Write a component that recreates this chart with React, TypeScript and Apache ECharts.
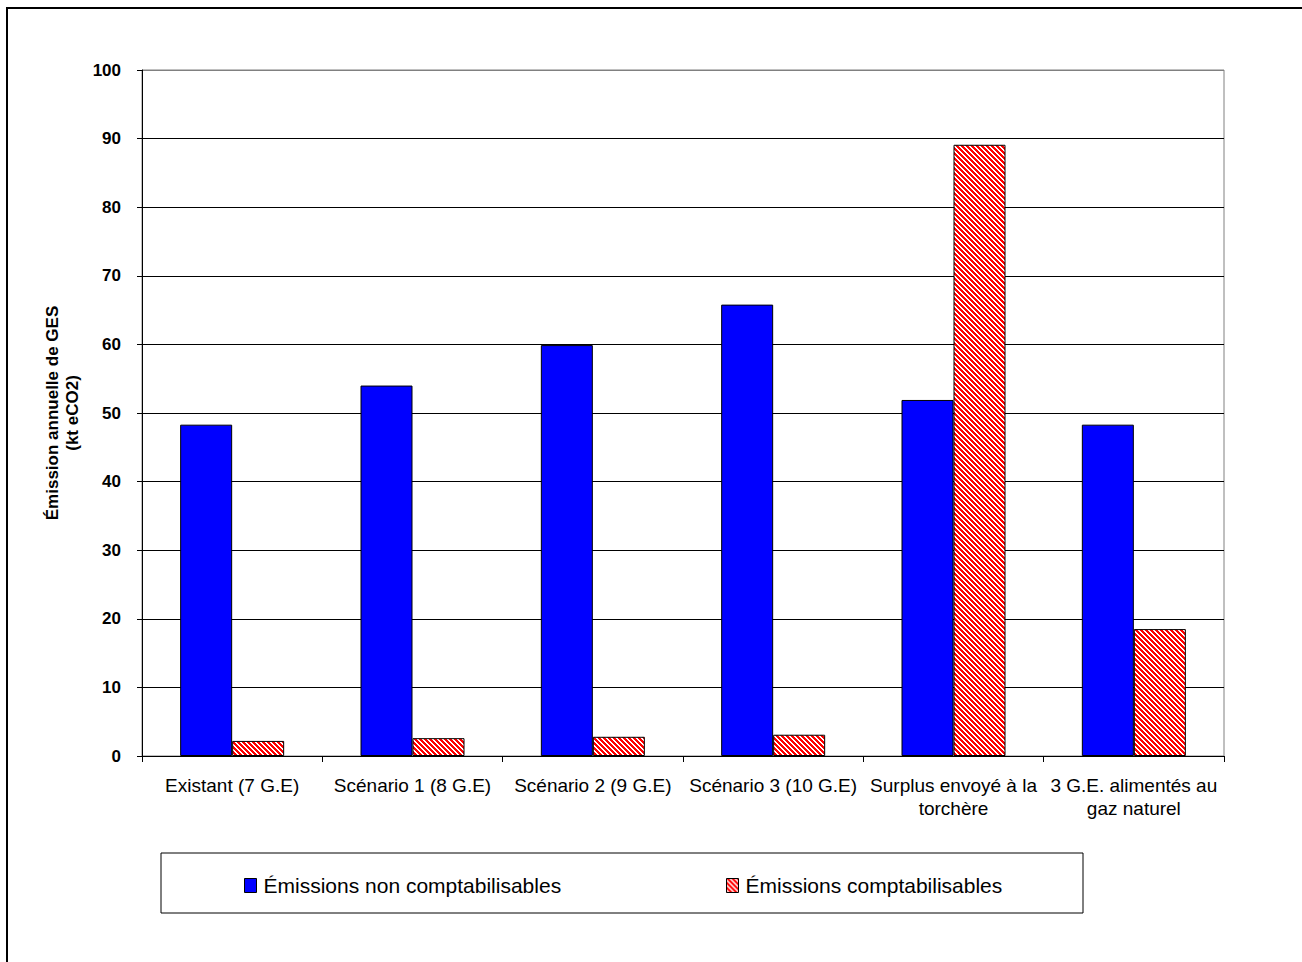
import React, { useEffect, useRef } from "react";
import * as echarts from "echarts";

// Scenarios compared
const categories = [
  "Existant (7 G.E)",
  "Scénario 1 (8 G.E)",
  "Scénario 2 (9 G.E)",
  "Scénario 3 (10 G.E)",
  "Surplus envoyé à la\ntorchère",
  "3 G.E. alimentés au\ngaz naturel",
];

// Annual GHG emissions, kt eCO2
const emissionsNonComptabilisables = [48.3, 54.0, 59.9, 65.8, 51.9, 48.3];
const emissionsComptabilisables = [2.2, 2.6, 2.8, 3.1, 89.1, 18.5];

const seriesNames = ["Émissions non comptabilisables", "Émissions comptabilisables"];
const yTitle = "Émission annuelle de GES\n(kt eCO2)";

const FONT = "'Liberation Sans', Arial, Helvetica, sans-serif";

// Red diagonal hatch tile
function makeHatch(): HTMLCanvasElement {
  const s = 5;
  const c = document.createElement("canvas");
  c.width = s;
  c.height = s;
  const ctx = c.getContext("2d")!;
  ctx.fillStyle = "#ffffff";
  ctx.fillRect(0, 0, s, s);
  ctx.fillStyle = "#ff0000";
  for (let y = 0; y < s; y++) {
    for (let x = 0; x < s; x++) {
      if ((((x - y) % s) + s) % s < 3) ctx.fillRect(x, y, 1, 1);
    }
  }
  return c;
}

export default function App() {
  const ref = useRef<HTMLDivElement>(null);

  useEffect(() => {
    if (!ref.current) return;
    const chart = echarts.init(ref.current, undefined, { renderer: "svg" });
    const hatch = { image: makeHatch(), repeat: "repeat" } as any;

    const splitColors = Array.from({ length: 10 }, () => "#000000").concat(["#808080"]);

    const legendText = { fontSize: 21, color: "#000", fontFamily: FONT, padding: [0, 0, 0, 2] };

    chart.setOption({
      animation: false,
      backgroundColor: "#ffffff",
      textStyle: { fontFamily: FONT },
      grid: {
        left: 142,
        right: 78,
        top: 70,
        bottom: 206,
        show: true,
        borderColor: "#808080",
        borderWidth: 1,
        containLabel: false,
      },
      legend: [
        {
          data: [seriesNames[0]],
          left: 239,
          top: 870,
          itemWidth: 12,
          itemHeight: 14,
          itemGap: 0,
          icon: "rect",
          itemStyle: { borderColor: "#000", borderWidth: 1 },
          textStyle: legendText,
          selectedMode: false,
        },
        {
          data: [seriesNames[1]],
          left: 721,
          top: 870,
          itemWidth: 12,
          itemHeight: 14,
          itemGap: 0,
          icon: "rect",
          itemStyle: { borderColor: "#000", borderWidth: 1 },
          textStyle: legendText,
          selectedMode: false,
        },
      ],
      xAxis: {
        type: "category",
        data: categories,
        boundaryGap: true,
        axisLine: { lineStyle: { color: "#000", width: 1 } },
        axisTick: { show: true, length: 6, lineStyle: { color: "#000" }, alignWithLabel: false },
        axisLabel: {
          color: "#000",
          fontSize: 19,
          fontFamily: FONT,
          margin: 18,
          lineHeight: 23,
          interval: 0,
        },
      },
      yAxis: {
        type: "value",
        min: 0,
        max: 100,
        interval: 10,
        axisLine: { show: true, lineStyle: { color: "#000", width: 1 } },
        axisTick: { show: true, length: 5, lineStyle: { color: "#000" } },
        axisLabel: {
          color: "#000",
          fontSize: 17,
          fontWeight: "bold",
          fontFamily: FONT,
          margin: 21,
        },
        splitLine: { show: true, lineStyle: { color: splitColors, width: 1 } },
      },
      series: [
        {
          name: seriesNames[0],
          type: "bar",
          data: emissionsNonComptabilisables,
          barWidth: 52,
          barGap: "0%",
          itemStyle: { color: "#0000ff", borderColor: "#000", borderWidth: 1 },
        },
        {
          name: seriesNames[1],
          type: "bar",
          data: emissionsComptabilisables,
          barWidth: 52,
          barGap: "0%",
          itemStyle: { color: hatch, borderColor: "#000", borderWidth: 1 },
        },
      ],
      graphic: [
        {
          type: "rect",
          x: 7,
          y: 8,
          shape: { x: 0, y: 0, width: 1400, height: 1000 },
          style: { fill: "none", stroke: "#000", lineWidth: 2 },
          silent: true,
          z: 100,
        },
        {
          type: "rect",
          x: 161,
          y: 853,
          shape: { x: 0, y: 0, width: 922, height: 60 },
          style: { fill: "none", stroke: "#000", lineWidth: 1 },
          silent: true,
        },
        {
          type: "text",
          x: 62,
          y: 413,
          rotation: Math.PI / 2,
          style: {
            text: yTitle,
            fill: "#000",
            font: `bold 17px ${FONT}`,
            align: "center",
            verticalAlign: "middle",
            lineHeight: 20,
          },
        },
      ],
    });

    return () => chart.dispose();
  }, []);

  return (
    <div
      ref={ref}
      style={{ position: "fixed", left: 0, top: 0, width: 1302, height: 962, background: "#fff" }}
    />
  );
}
